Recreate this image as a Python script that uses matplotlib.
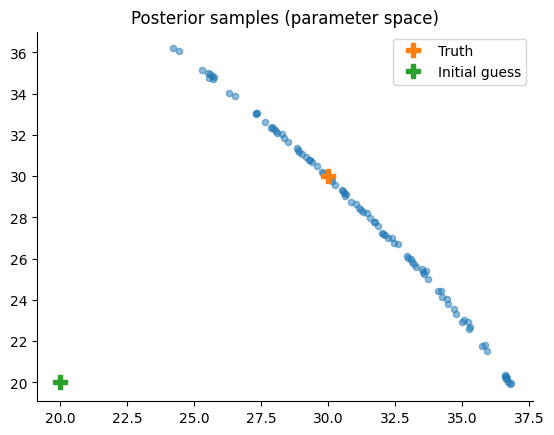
import matplotlib
matplotlib.use("Agg")
import matplotlib.pyplot as plt

# posterior samples
samples_x = [24.24, 24.43, 25.29, 25.51, 25.62, 25.58, 25.70, 25.77, 25.66, 26.33,
             26.52, 27.33, 27.37, 27.33, 27.67, 27.89, 27.93, 28.00, 28.08, 28.12,
             28.30, 28.38, 28.53, 28.86, 28.90, 28.94, 29.05, 29.20, 29.31, 29.35,
             29.42, 29.61, 29.79, 29.83, 30.13, 30.16, 30.28, 30.54, 30.57, 30.61,
             30.69, 30.65, 30.87, 31.06, 31.17, 31.24, 31.32, 31.47, 31.58, 31.73,
             31.76, 31.88, 32.03, 32.06, 32.14, 32.25, 32.40, 32.47, 32.62, 32.96,
             32.99, 33.10, 33.14, 33.22, 33.29, 33.51, 33.55, 33.59, 33.66, 33.74,
             34.11, 34.22, 34.26, 34.45, 34.48, 34.71, 34.78, 35.00, 35.08, 35.23,
             35.26, 35.30, 35.75, 35.86, 35.93, 36.60, 36.64, 36.68, 36.72, 36.79,
             36.60, 36.64, 36.83]
samples_y = [36.19, 36.05, 35.13, 34.98, 34.93, 34.74, 34.69, 34.79, 34.84, 34.01,
             33.87, 33.04, 33.04, 32.99, 32.61, 32.32, 32.36, 32.27, 32.17, 32.07,
             32.02, 31.83, 31.68, 31.35, 31.25, 31.15, 31.05, 30.91, 30.76, 30.76,
             30.67, 30.47, 30.18, 30.13, 29.84, 29.75, 29.55, 29.31, 29.26, 29.16,
             29.12, 29.02, 28.73, 28.63, 28.44, 28.34, 28.24, 28.19, 27.95, 27.76,
             27.76, 27.56, 27.22, 27.18, 27.13, 26.98, 26.98, 26.74, 26.69, 26.11,
             26.01, 25.96, 25.82, 25.72, 25.58, 25.48, 25.33, 25.28, 25.38, 24.99,
             24.41, 24.41, 24.12, 24.02, 23.78, 23.54, 23.30, 22.91, 23.01, 22.91,
             22.57, 22.67, 21.75, 21.79, 21.50, 20.24, 20.15, 20.19, 20.00, 19.90,
             20.34, 20.29, 19.95]

truth = [30.0, 30.0]
initial_guess = [20.0, 20.0]

fig, ax = plt.subplots(figsize=(6.4, 4.8), dpi=100)
ax.scatter(samples_x, samples_y, s=20, alpha=0.5, color="C0")
ax.plot(truth[0], truth[1], "P", ms=10, color="C1", label="Truth", linestyle="none")
ax.plot(initial_guess[0], initial_guess[1], "P", ms=10, color="C2", label="Initial guess", linestyle="none")
ax.set_title("Posterior samples (parameter space)")
ax.spines["top"].set_visible(False)
ax.spines["right"].set_visible(False)
ax.legend(loc="upper right")

fig.savefig("out.png", bbox_inches="tight")
